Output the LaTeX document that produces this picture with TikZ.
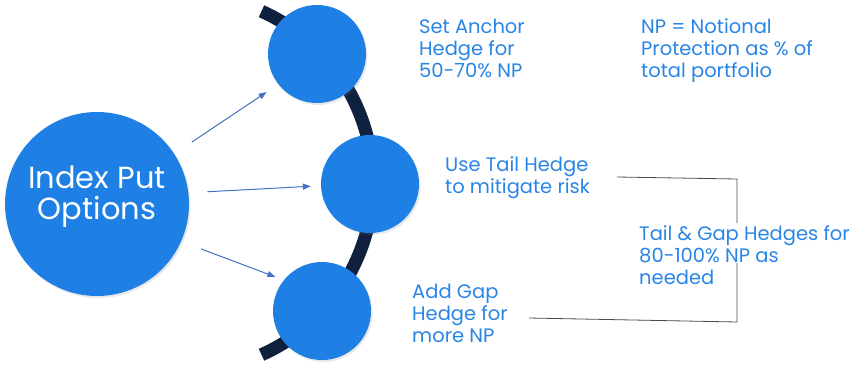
\documentclass[tikz,border=0pt]{standalone}
\usepackage{fontspec}
\setmainfont{Poppins}
\usetikzlibrary{arrows.meta,shadows}
\definecolor{hedgeblue}{RGB}{30,128,228}
\definecolor{textblue}{RGB}{40,133,230}
\definecolor{archnavy}{RGB}{15,33,62}
\definecolor{arrowblue}{RGB}{68,114,196}
\tikzset{
  ball/.style={circle, fill=hedgeblue, minimum size=98pt, inner sep=0pt,
    drop shadow={shadow xshift=1.5pt, shadow yshift=-2pt, opacity=.18}},
  note/.style={anchor=base west, inner sep=0pt, align=left, text=textblue,
    font=\fontsize{19.5}{22}\selectfont},
  feed/.style={draw=arrowblue, line width=1pt, -{Triangle[length=8pt,width=6pt]}},
  bracket/.style={draw=black!70, line width=0.8pt}
}
\begin{document}
\begin{tikzpicture}[x=1pt,y=1pt]
\useasboundingbox (0,0) rectangle (851,-364);
\draw[archnavy, line width=13pt] (185,-183) ++(66:188) arc (66:-66:188);

\node[ball, minimum size=184pt,
  label={[text=white, align=center, yshift=7pt,
    font=\fontsize{30.5}{31}\selectfont]center:Index Put\\Options}] (idx) at (97,-204) {};
\node[ball] (anchorC) at (317,-54) {};
\node[ball] (tailC) at (370,-184) {};
\node[ball] (gapC) at (322,-311) {};

\draw[feed, shorten <=21pt, shorten >=14pt] (idx.33) -- (anchorC.218);
\draw[feed, shorten <=19pt, shorten >=10pt] (idx.7) -- (tailC.182);
\draw[feed, shorten <=21pt, shorten >=9pt] (idx.-24) -- (gapC.141);

\node[note] (anchorT) at (419,-77) {Set Anchor\\Hedge for\\50-70\% NP};
\node[note] (noteT) at (641,-77) {NP = Notional\\Protection as \% of\\total portfolio};
\node[note] (tailT) at (445,-193) {Use Tail Hedge\\to mitigate risk};
\node[note] (bothT) at (639,-284) {Tail \& Gap Hedges for\\80-100\% NP as\\needed};
\node[note] (gapT) at (412,-342) {Add Gap\\Hedge for\\more NP};

\coordinate (b1) at (617,-177);
\coordinate (b2) at (737,-179);
\coordinate (b3) at (737,-322);
\coordinate (b4) at (529,-318);
\draw[bracket] (b1) -- (b2) -- ++(0,-44);
\draw[bracket] (b3) ++(0,59) -- (b3) -- (b4);
\end{tikzpicture}
\end{document}
